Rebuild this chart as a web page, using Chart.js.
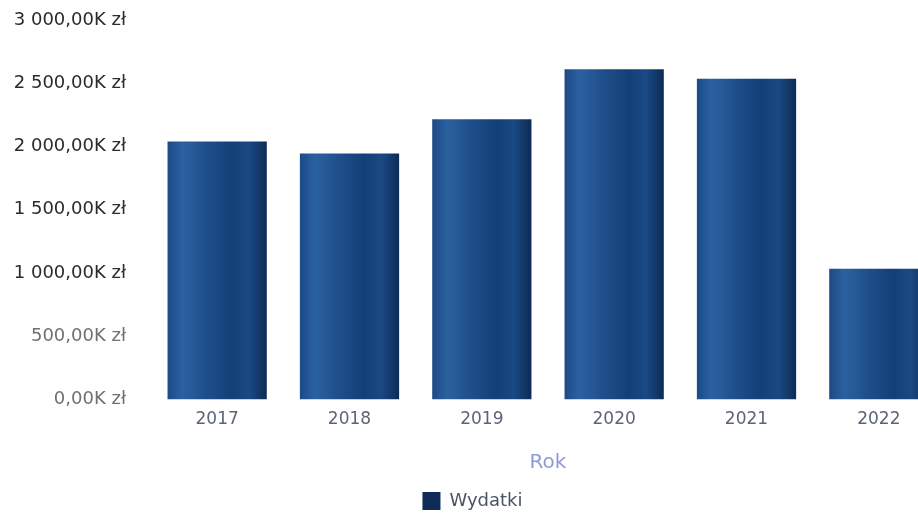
<!DOCTYPE html>
<html>
<head>
<meta charset="utf-8">
<script src="https://cdn.jsdelivr.net/npm/chart.js@4/dist/chart.umd.min.js"></script>
<style>
  html, body { margin: 0; padding: 0; background: #fff; overflow: hidden; }
  .wrap { width: 945px; height: 520px; }
</style>
</head>
<body>
<div class="wrap"><canvas id="wydatkiChart"></canvas></div>
<script>
const years = ['2017', '2018', '2019', '2020', '2021', '2022'];
const wydatki = [2040, 1945, 2215, 2610, 2535, 1035];  // tys. zł
const yTicks = [0, 500, 1000, 1500, 2000, 2500, 3000];

const FONT = "'DejaVu Sans', sans-serif";

  function formatK(v) {
    const parts = v.toFixed(2).split('.');
    const intPart = parts[0].replace(/\B(?=(\d{3})+(?!\d))/g, ' ');
    return intPart + ',' + parts[1] + 'K zł';
  }

  // cylinder-ish shading, computed from the x scale
  function barFill(context) {
    const chart = context.chart;
    const xs = chart.scales.x;
    if (context.dataIndex === undefined || !xs || !chart.chartArea) return '#17427a';
    const cx = xs.getPixelForValue(context.dataIndex);
    const half = xs.width / years.length * 0.75 / 2;
    const g = chart.ctx.createLinearGradient(cx - half, 0, cx + half, 0);
    g.addColorStop(0, '#1c4a86');
    g.addColorStop(0.15, '#2b61a0');
    g.addColorStop(0.4, '#1e4e8a');
    g.addColorStop(0.65, '#143f76');
    g.addColorStop(0.82, '#1a4984');
    g.addColorStop(0.95, '#113462');
    g.addColorStop(1, '#0c2b57');
    return g;
  }

  const ctx = document.getElementById('wydatkiChart');

  new Chart(ctx, {
    type: 'bar',
    data: {
      labels: years,
      datasets: [{
        label: 'Wydatki',
        data: wydatki,
        backgroundColor: barFill,
        borderWidth: 0,
        categoryPercentage: 1,
        barPercentage: 0.75
      }]
    },
    options: {
      responsive: true,
      maintainAspectRatio: false,
      animation: false,
      layout: { padding: { top: 0, left: 0, right: 0, bottom: 0 } },
      plugins: {
        tooltip: { enabled: false },
        legend: {
          position: 'bottom',
          labels: {
            color: '#4b5366',
            font: { family: FONT, size: 18 },
            boxWidth: 18,
            boxHeight: 18,
            padding: 7
          }
        }
      },
      scales: {
        x: {
          grid: { display: false },
          border: { display: false },
          ticks: {
            color: '#5b6479',
            font: { family: FONT, size: 17 },
            padding: 2
          },
          title: {
            display: true,
            text: 'Rok',
            color: '#8f9bd6',
            font: { family: FONT, size: 20 },
            padding: { top: 19, bottom: 10 }
          }
        },
        y: {
          min: 0,
          max: 3000,
          afterBuildTicks: (scale) => { scale.ticks = yTicks.map(v => ({ value: v })); },
          afterFit: (scale) => {
            scale.width = 151;
            scale.paddingTop = 20;
            scale.paddingBottom = 10;
          },
          grid: { display: false },
          border: { display: false },
          ticks: {
            color: (c) => c.tick && c.tick.value <= 500 ? '#707070' : '#2b2b2b',
            font: { family: FONT, size: 18 },
            padding: 17,
            callback: (v) => formatK(v)
          }
        }
      }
    }
  });
</script>
</body>
</html>
